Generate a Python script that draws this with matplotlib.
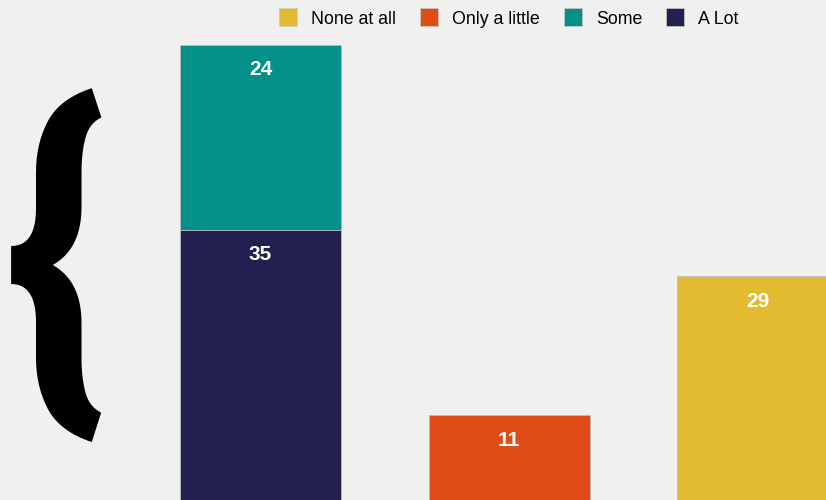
import matplotlib
matplotlib.use('Agg')
import matplotlib.pyplot as plt
from matplotlib.lines import Line2D

plt.rcParams['font.family'] = ['Liberation Sans', 'DejaVu Sans']

# data
positions = [0, 1, 2]
series = ['None at all', 'Only a little', 'Some', 'A Lot']
colors = ['#e3bb30', '#e04c16', '#048f8a', '#22204e']
a_lot = [35, 0, 0]
some = [24, 0, 0]
only_little = [0, 11, 0]
none_at_all = [0, 0, 29]

bg = '#f0f0ee'
fig = plt.figure(figsize=(8.26, 5), dpi=100, facecolor=bg)
ax = fig.add_axes([0, 0, 1, 1])
ax.set_facecolor(bg)

w = 0.647
stack = [(a_lot, colors[3]), (some, colors[2]), (only_little, colors[1]), (none_at_all, colors[0])]
bottom = [0, 0, 0]
for vals, c in stack:
    bars = ax.bar(positions, vals, w, bottom=bottom, color=c, edgecolor='#bbbbbb', linewidth=0.6)
    for b, v, btm in zip(bars, vals, bottom):
        if v > 0:
            ax.annotate(str(v), (b.get_x() + b.get_width() / 2, btm + v),
                        xytext=(0, -18), textcoords='offset points',
                        ha='center', va='center', color='white',
                        fontsize=15, fontweight='bold')
    bottom = [a + b for a, b in zip(bottom, vals)]

ax.set_xlim(-1.047, 2.274)
ax.set_ylim(0, 64.8)
ax.axis('off')

# big brace on the left
fig.text(0.068, 0.45, '{', fontsize=266, ha='center', va='center', color='black',
         family=['Roboto Condensed', 'Liberation Sans'], fontweight='bold')

handles = [Line2D([], [], marker='s', linestyle='none', markersize=12.3,
                  markerfacecolor=c, markeredgecolor='#cccccc', markeredgewidth=0.5)
           for c in colors]
fig.legend(handles, series, ncol=4, loc='upper center', bbox_to_anchor=(509 / 826, 1.011),
           frameon=False, fontsize=12.8, handlelength=1.0, handletextpad=0.8,
           columnspacing=1.35)

fig.savefig('out.png', facecolor=bg)
